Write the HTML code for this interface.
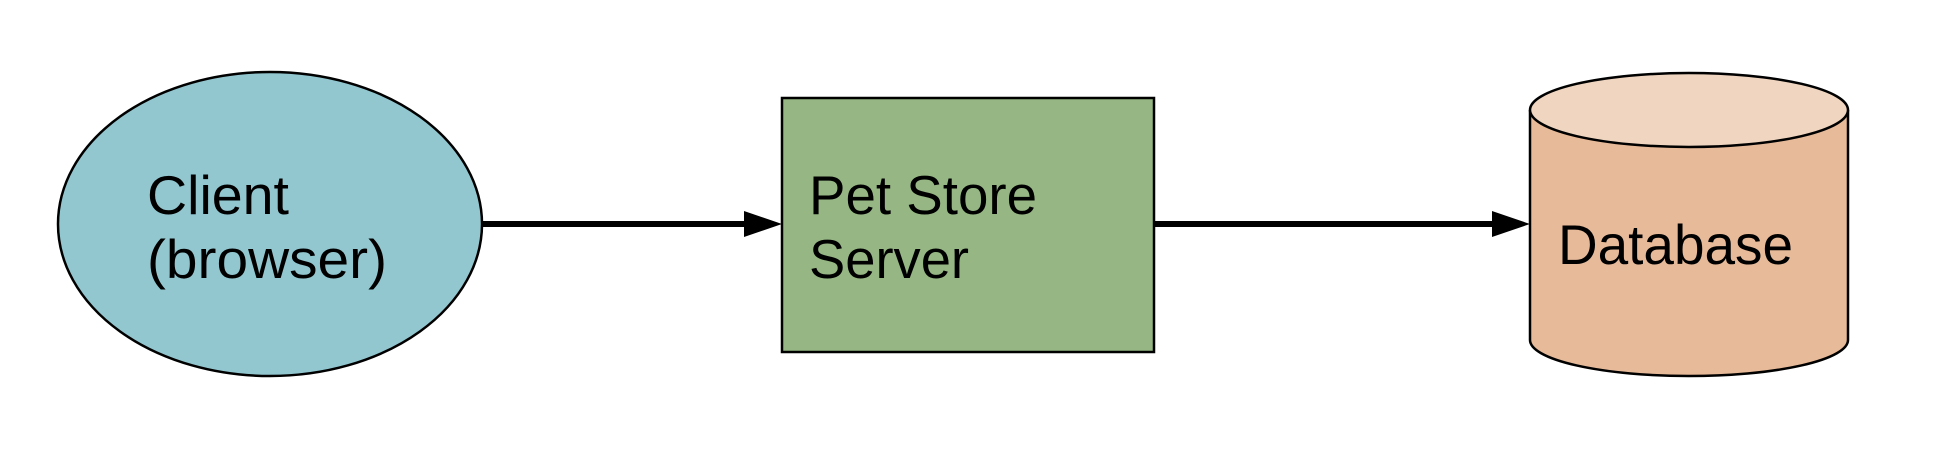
<!DOCTYPE html>
<html><head><meta charset="utf-8"><style>html,body{margin:0;padding:0;background:#fff}svg{display:block}</style></head><body>
<svg width="1958" height="476" viewBox="0 0 1958 476" xmlns="http://www.w3.org/2000/svg">
<rect width="1958" height="476" fill="#fff"/>
<ellipse cx="270" cy="224" rx="212" ry="152" fill="#92c7d0" stroke="#000" stroke-width="2.5"/>
<rect x="782" y="98" width="372" height="254" fill="#96b784" stroke="#000" stroke-width="2.5"/>
<path d="M1530 110 L1530 340 A159 36 0 0 0 1848 340 L1848 110" fill="#e7ba99" stroke="#000" stroke-width="2.5"/>
<ellipse cx="1689" cy="110" rx="159" ry="37" fill="#f0d6c0" stroke="#000" stroke-width="2.5"/>
<line x1="482" y1="224" x2="748" y2="224" stroke="#000" stroke-width="6"/>
<polygon points="744,211 782,224 744,237" fill="#000"/>
<line x1="1154" y1="224" x2="1495" y2="224" stroke="#000" stroke-width="6"/>
<polygon points="1492,211 1530,224 1492,237" fill="#000"/>
<g font-family="Liberation Sans, sans-serif" font-size="55" fill="#000">
<text x="147" y="214" textLength="142" lengthAdjust="spacingAndGlyphs">Client</text>
<text x="147" y="278" textLength="240" lengthAdjust="spacingAndGlyphs">(browser)</text>
<text x="809" y="214" textLength="228" lengthAdjust="spacingAndGlyphs">Pet Store</text>
<text x="809" y="278" textLength="160" lengthAdjust="spacingAndGlyphs">Server</text>
<text x="1558" y="264" font-size="56" textLength="235" lengthAdjust="spacingAndGlyphs">Database</text>
</g>
</svg>
</body></html>
